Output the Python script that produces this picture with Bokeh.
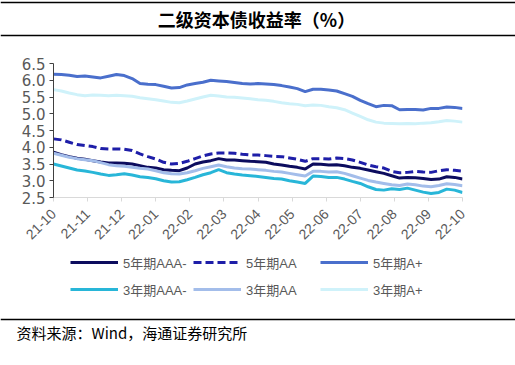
import numpy as np
from bokeh.plotting import figure
from bokeh.layouts import column
from bokeh.models import Range1d, FixedTicker, Legend, LegendItem, Label, Span
from bokeh.embed import file_html
from bokeh.resources import INLINE

title_text = "二级资本债收益率（%）"
source_text = "资料来源：Wind，海通证券研究所"
month_labels = ["21-10", "21-11", "21-12", "22-01", "22-02", "22-03", "22-04",
                "22-05", "22-06", "22-07", "22-08", "22-09", "22-10"]
y_ticks = [2.5, 3.0, 3.5, 4.0, 4.5, 5.0, 5.5, 6.0, 6.5]
y_tick_labels = ["2.5", "3.0", "3.5", "4.0", "4.5", "5.0", "5.5", "6.0", "6.5"]

names = ["5年期AAA-", "5年期AA", "5年期A+", "3年期AAA-", "3年期AA", "3年期A+"]

y5_aaa = [3.85, 3.78, 3.72, 3.67, 3.64, 3.60, 3.56, 3.53, 3.53, 3.52, 3.50, 3.45, 3.40, 3.38,
          3.33, 3.31, 3.30, 3.38, 3.50, 3.56, 3.60, 3.66, 3.62, 3.62, 3.60, 3.58, 3.57, 3.55,
          3.50, 3.47, 3.43, 3.40, 3.35, 3.50, 3.49, 3.47, 3.48, 3.45, 3.40, 3.37, 3.32, 3.27,
          3.22, 3.15, 3.08, 3.10, 3.09, 3.07, 3.04, 3.05, 3.12, 3.10, 3.05]
y5_aa = [4.25, 4.22, 4.15, 4.08, 4.05, 4.02, 3.96, 3.95, 3.95, 3.94, 3.90, 3.80, 3.72, 3.65,
         3.55, 3.50, 3.52, 3.58, 3.66, 3.74, 3.80, 3.83, 3.83, 3.82, 3.79, 3.77, 3.77, 3.75,
         3.73, 3.72, 3.68, 3.64, 3.58, 3.66, 3.66, 3.65, 3.68, 3.66, 3.62, 3.55, 3.47, 3.42,
         3.38, 3.28, 3.24, 3.25, 3.28, 3.26, 3.25, 3.30, 3.33, 3.31, 3.29]
y5_ap = [6.18, 6.17, 6.15, 6.11, 6.13, 6.10, 6.07, 6.12, 6.17, 6.14, 6.05, 5.90, 5.88, 5.87,
         5.82, 5.77, 5.78, 5.86, 5.90, 5.94, 6.00, 5.98, 5.96, 5.93, 5.90, 5.89, 5.90, 5.89,
         5.87, 5.84, 5.80, 5.75, 5.66, 5.73, 5.73, 5.71, 5.68, 5.60, 5.52, 5.40, 5.30, 5.21,
         5.25, 5.24, 5.12, 5.13, 5.13, 5.11, 5.16, 5.16, 5.20, 5.19, 5.16]
y3_aaa = [3.50, 3.44, 3.38, 3.32, 3.29, 3.25, 3.20, 3.16, 3.18, 3.21, 3.17, 3.12, 3.10, 3.06,
          3.00, 2.96, 2.97, 3.03, 3.10, 3.18, 3.24, 3.33, 3.24, 3.20, 3.17, 3.15, 3.13, 3.10,
          3.07, 3.05, 3.00, 2.96, 2.92, 3.14, 3.13, 3.10, 3.10, 3.05, 2.98, 2.92, 2.82, 2.74,
          2.72, 2.76, 2.74, 2.78, 2.72, 2.66, 2.62, 2.65, 2.75, 2.72, 2.65]
y3_aa = [3.82, 3.76, 3.70, 3.66, 3.63, 3.60, 3.54, 3.48, 3.45, 3.43, 3.40, 3.37, 3.35, 3.30,
         3.24, 3.21, 3.20, 3.24, 3.30, 3.37, 3.42, 3.47, 3.42, 3.38, 3.36, 3.35, 3.33, 3.31,
         3.28, 3.26, 3.22, 3.18, 3.14, 3.28, 3.28, 3.26, 3.27, 3.22, 3.15, 3.08, 3.01, 2.96,
         2.92, 2.88, 2.86, 2.90, 2.88, 2.84, 2.82, 2.86, 2.91, 2.89, 2.85]
y3_ap = [5.72, 5.68, 5.62, 5.57, 5.54, 5.56, 5.55, 5.54, 5.55, 5.54, 5.52, 5.48, 5.45, 5.42,
         5.38, 5.34, 5.33, 5.38, 5.44, 5.50, 5.55, 5.53, 5.50, 5.49, 5.47, 5.45, 5.42, 5.40,
         5.37, 5.33, 5.30, 5.28, 5.24, 5.26, 5.25, 5.21, 5.18, 5.12, 5.02, 4.92, 4.82, 4.75,
         4.72, 4.71, 4.70, 4.71, 4.70, 4.72, 4.73, 4.76, 4.80, 4.78, 4.75]

series = [y5_aaa, y5_aa, y5_ap, y3_aaa, y3_aa, y3_ap]
colors = ["#0C0C5E", "#1E1EA8", "#4A6FCC", "#28B6D8", "#A3BDEA", "#CFF2FA"]
dashes = ["solid", "8 4", "solid", "solid", "solid", "solid"]

x = np.linspace(0, len(month_labels) - 1, len(y5_aaa))

W = 515
H_HEAD, H_MAIN, H_FOOT = 37, 212, 116


def no_align(f):
    if "frame_align" in f.properties():
        f.frame_align = False
    return f


def blank_fig(h):
    f = figure(width=W, height=h, output_backend="svg", toolbar_location=None,
               x_range=Range1d(0, W), y_range=Range1d(0, h),
               x_axis_type=None, y_axis_type=None,
               min_border=0, min_border_left=0, min_border_right=0,
               min_border_top=0, min_border_bottom=0)
    f.outline_line_color = None
    f.xgrid.grid_line_color = None
    f.ygrid.grid_line_color = None
    return no_align(f)


# ---------- header ----------
head = blank_fig(H_HEAD)
for yy in [35, 2]:
    head.add_layout(Span(location=yy, dimension="width", line_color="#000000", line_width=1.5))
head.add_layout(Label(x=256, y=19, text=title_text, text_align="center", text_baseline="middle",
                      text_font="Noto Sans CJK SC", text_font_style="bold",
                      text_font_size="18px", text_color="#000000"))

# ---------- main chart ----------
p = figure(width=W, height=H_MAIN, output_backend="svg", toolbar_location=None,
           x_range=Range1d(0, 12), y_range=Range1d(2.5, 6.5),
           min_border_left=53, min_border_right=53, min_border_top=26, min_border_bottom=52)
no_align(p)
p.outline_line_color = None
p.xgrid.grid_line_color = None
p.ygrid.grid_line_color = None

for vals, c, d in zip(series, colors, dashes):
    p.line(x, vals, line_color=c, line_width=3, line_dash=d)

p.xaxis.ticker = FixedTicker(ticks=list(range(len(month_labels))))
p.xaxis.major_label_overrides = {i: l for i, l in enumerate(month_labels)}
p.xaxis.major_label_orientation = np.pi / 4
p.xaxis.axis_line_color = "#d9d9d9"
p.xaxis.major_tick_line_color = "#d9d9d9"
p.xaxis.major_tick_out = 4
p.xaxis.major_tick_in = 0
p.xaxis.minor_tick_line_color = None
p.xaxis.major_label_text_font = "Liberation Sans"
p.xaxis.major_label_text_font_size = "14px"
p.xaxis.major_label_text_color = "#595959"
p.xaxis.major_label_standoff = 10

p.yaxis.ticker = FixedTicker(ticks=y_ticks)
p.yaxis.major_label_overrides = {t: l for t, l in zip(y_ticks, y_tick_labels)}
p.yaxis.axis_line_color = "#404040"
p.yaxis.major_tick_line_color = "#404040"
p.yaxis.major_tick_out = 4
p.yaxis.major_tick_in = 0
p.yaxis.minor_tick_line_color = None
p.yaxis.major_label_text_font = "DejaVu Sans"
p.yaxis.major_label_text_font_size = "15px"
p.yaxis.major_label_text_color = "#595959"
p.yaxis.major_label_standoff = 4

# ---------- footer: legend, rule, source ----------
foot = blank_fig(H_FOOT)
leg_x = [70, 193, 320]
leg_y = [93.3, 66.3]
for i, (n, vals, c, d) in enumerate(zip(names, series, colors, dashes)):
    r = foot.line(x, vals, line_color=c, line_width=3, line_dash=d, visible=False)
    lg = Legend(items=[LegendItem(label=n, renderers=[r])],
                location=(leg_x[i % 3], leg_y[i // 3]),
                orientation="horizontal", glyph_width=48, glyph_height=14,
                label_height=14, label_standoff=5, padding=0, margin=0, spacing=0,
                border_line_alpha=0, background_fill_alpha=0, inactive_fill_alpha=0,
                label_text_font="Liberation Sans, Noto Sans CJK SC",
                label_text_font_size="13px", label_text_color="#595959")
    foot.add_layout(lg)
foot.add_layout(Span(location=46, dimension="width", line_color="#000000", line_width=1.5))
foot.add_layout(Label(x=16, y=33, text=source_text, text_align="left", text_baseline="middle",
                      text_font="Noto Sans CJK SC", text_font_size="15px", text_color="#000000"))

layout = column(head, p, foot, spacing=0)
open("out.html", "w").write(file_html(layout, INLINE))
